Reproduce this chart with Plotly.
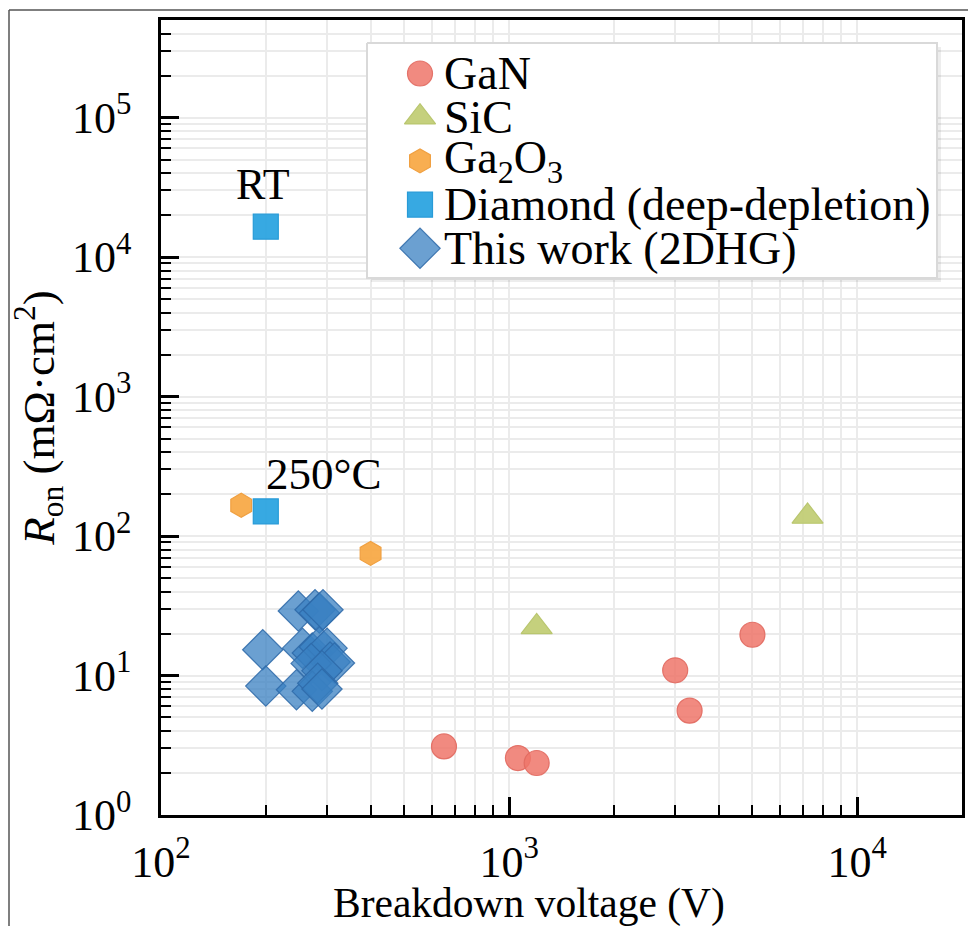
import math
import plotly.graph_objects as go

# ---------------- data ----------------
gan_bv = [650, 1060, 1200, 3000, 3300, 5000]
gan_ron = [3.1, 2.56, 2.36, 10.9, 5.6, 19.6]

sic_bv = [1200, 7200]
sic_ron = [22.3, 138]

ga2o3_bv = [170, 400]
ga2o3_ron = [166, 75]

diamond_bv = [200, 200]
diamond_ron = [16500, 150]
diamond_notes = ["RT", "250°C"]

thiswork_bv = [196, 200, 248, 277, 285, 292, 255, 272, 285, 300, 306, 315,
               270, 290, 245, 272, 282, 290]
thiswork_ron = [15.3, 8.4, 29, 29.6, 28, 29.6, 15.7, 14.5, 16, 15.7, 12.5, 12.3,
                12.2, 10.8, 7.9, 7.7, 8.8, 8.0]

series_names = ["GaN", "SiC", "Ga<sub>2</sub>O<sub>3</sub>",
                "Diamond (deep-depletion)", "This work (2DHG)"]

x_tickvals = [1e2, 1e3, 1e4]
x_ticktext = ["10<sup>2</sup>", "10<sup>3</sup>", "10<sup>4</sup>"]
y_tickvals = [1, 1e1, 1e2, 1e3, 1e4, 1e5]
y_ticktext = ["10<sup>0</sup>", "10<sup>1</sup>", "10<sup>2</sup>",
              "10<sup>3</sup>", "10<sup>4</sup>", "10<sup>5</sup>"]
x_range = [1e2, 2e4]
y_range = [1, 5e5]

x_title = "Breakdown voltage (V)"
y_title = "<i>R</i><sub>on</sub> (mΩ·cm<sup>2</sup>)"

# ---------------- styles ----------------
FONT = "Liberation Serif"
W, H = 968, 926
L, R, T, B = 161, 962, 20, 815


def fx(px):
    return (px - L) / (R - L)


def fy(py):
    return (B - py) / (B - T)


styles = [
    dict(symbol="circle", size=25, color="rgba(238,118,106,0.85)", line="rgba(225,105,95,0.9)"),
    dict(symbol="triangle-up", size=27, color="rgba(194,206,118,0.95)", line="rgba(185,198,110,1)"),
    dict(symbol="hexagon", size=24, color="rgba(248,170,72,0.95)", line="rgba(240,160,65,1)"),
    dict(symbol="square", size=25, color="rgba(44,164,224,0.95)", line="rgba(40,155,215,1)"),
    dict(symbol="diamond", size=31, color="rgba(58,128,194,0.75)", line="rgba(45,105,168,0.85)"),
]

data_sets = [(gan_bv, gan_ron), (sic_bv, sic_ron), (ga2o3_bv, ga2o3_ron),
             (diamond_bv, diamond_ron), (thiswork_bv, thiswork_ron)]

fig = go.Figure()

for name, (xs, ys), st in zip(series_names, data_sets, styles):
    fig.add_trace(go.Scatter(
        x=xs, y=ys, mode="markers", name=name, showlegend=False,
        marker=dict(symbol=st["symbol"], size=st["size"], color=st["color"],
                    line=dict(width=1.2, color=st["line"])),
        xaxis="x", yaxis="y",
    ))

# ---------------- hand-built legend (large markers like the reference) -------------
leg_x0, leg_x1, leg_y0, leg_y1 = 367, 937, 43, 278
row0, pitch = 73.5, 43.7
mark_x, text_x = 420, 442


def box(x0, x1, y0, y1):
    return ([fx(x0), fx(x1), fx(x1), fx(x0), fx(x0)],
            [fy(y0), fy(y0), fy(y1), fy(y1), fy(y0)])


sx, sy = box(leg_x0 + 4, leg_x1 + 4, leg_y0 + 4, leg_y1 + 4)
fig.add_trace(go.Scatter(x=sx, y=sy, mode="lines", fill="toself",
                         fillcolor="rgba(0,0,0,0.07)", line=dict(width=0),
                         showlegend=False, hoverinfo="skip", xaxis="x2", yaxis="y2"))
bx, by = box(leg_x0, leg_x1, leg_y0, leg_y1)
fig.add_trace(go.Scatter(x=bx, y=by, mode="lines", fill="toself",
                         fillcolor="white", line=dict(width=2, color="#d9d9d9"),
                         showlegend=False, hoverinfo="skip", xaxis="x2", yaxis="y2"))

for i, (name, st) in enumerate(zip(series_names, styles)):
    ry = row0 + i * pitch
    fig.add_trace(go.Scatter(
        x=[fx(mark_x)], y=[fy(ry)], mode="markers", showlegend=False, hoverinfo="skip",
        marker=dict(symbol=st["symbol"], size=st["size"], color=st["color"],
                    line=dict(width=1.2, color=st["line"])),
        xaxis="x2", yaxis="y2",
    ))
    fig.add_annotation(x=fx(text_x), y=fy(ry), xref="paper", yref="paper",
                       text=name, showarrow=False, xanchor="left", yanchor="middle",
                       font=dict(family=FONT, size=46, color="black"))

# ---------------- point notes ----------------
fig.add_annotation(x=math.log10(diamond_bv[0]), y=math.log10(diamond_ron[0]),
                   xref="x", yref="y", text=diamond_notes[0], showarrow=False,
                   xanchor="center", yanchor="middle", yshift=42, xshift=-3,
                   font=dict(family=FONT, size=44, color="black"))
fig.add_annotation(x=math.log10(diamond_bv[1]), y=math.log10(diamond_ron[1]),
                   xref="x", yref="y", text=diamond_notes[1], showarrow=False,
                   xanchor="left", yanchor="middle", yshift=37, xshift=-2,
                   font=dict(family=FONT, size=45, color="black"))

# x-axis title (offset to the left as in the reference)
fig.add_annotation(x=fx(529), y=fy(878), xref="paper", yref="paper", text=x_title,
                   showarrow=False, xanchor="center", yanchor="top",
                   font=dict(family=FONT, size=41.5, color="black"))

# outer figure frame
fig.add_shape(type="line", xref="paper", yref="paper", layer="above",
              x0=fx(9), x1=fx(970), y0=fy(10), y1=fy(10), line=dict(color="#555", width=1.5))
fig.add_shape(type="line", xref="paper", yref="paper", layer="above",
              x0=fx(9), x1=fx(9), y0=fy(10), y1=fy(930), line=dict(color="#555", width=1.5))

x_minor = [m * 10 ** e for e in (2, 3) for m in range(2, 10)] + [2e4]
y_minor = [m * 10 ** e for e in range(0, 5) for m in range(2, 10)] + [2e5, 3e5, 4e5, 5e5]

grid_col = "#ebebeb"
axis_common = dict(
    type="log", showline=True, linecolor="black", linewidth=2.5, mirror=True,
    ticks="inside", ticklen=18, tickwidth=2.5, tickcolor="black",
    showgrid=True, gridcolor=grid_col, gridwidth=1.5, zeroline=False,
    tickfont=dict(family=FONT, size=44, color="black"),
)

fig.update_layout(
    width=W, height=H,
    margin=dict(l=L, r=W - R, t=T, b=H - B, autoexpand=False),
    paper_bgcolor="white", plot_bgcolor="white",
    showlegend=False,
    xaxis=dict(**axis_common, range=[math.log10(x_range[0]), math.log10(x_range[1])],
               tickmode="array", tickvals=x_tickvals, ticktext=x_ticktext,
               ticklabelstandoff=6,
               minor=dict(tickmode="array", tickvals=x_minor, ticks="inside", ticklen=10,
                          tickwidth=2, tickcolor="black", showgrid=True,
                          gridcolor=grid_col, gridwidth=1.5)),
    yaxis=dict(**axis_common, range=[math.log10(y_range[0]), math.log10(y_range[1])],
               tickmode="array", tickvals=y_tickvals, ticktext=y_ticktext,
               ticklabelstandoff=18,
               title=dict(text=y_title, font=dict(family=FONT, size=45, color="black"),
                          standoff=4),
               minor=dict(tickmode="array", tickvals=y_minor, ticks="inside", ticklen=10,
                          tickwidth=2, tickcolor="black", showgrid=True,
                          gridcolor=grid_col, gridwidth=1.5)),
    xaxis2=dict(overlaying="x", anchor="y2", range=[0, 1], visible=False, fixedrange=True),
    yaxis2=dict(overlaying="y", anchor="x2", range=[0, 1], visible=False, fixedrange=True),
)

fig.write_html("out.html", config={"displayModeBar": False},
               post_script="document.body.style.margin='0px';")
